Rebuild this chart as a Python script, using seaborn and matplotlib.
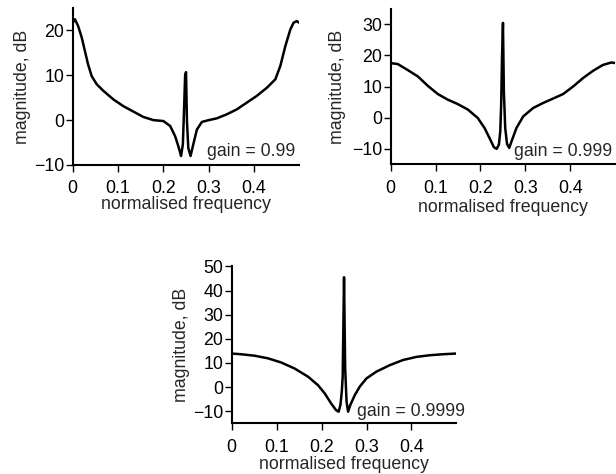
import matplotlib
matplotlib.use("Agg")
import matplotlib.pyplot as plt
import seaborn as sns

# ---- data ----
freq_a = [0.0, 0.005, 0.012, 0.02, 0.027, 0.034, 0.042, 0.053, 0.068, 0.09, 0.112, 0.134,
          0.156, 0.178, 0.2, 0.215, 0.226, 0.233, 0.239, 0.243, 0.246, 0.248, 0.25,
          0.252, 0.255, 0.26, 0.266, 0.274, 0.285, 0.3, 0.318, 0.34, 0.362, 0.384, 0.406,
          0.428, 0.447, 0.458, 0.469, 0.48, 0.487, 0.494, 0.5]
mag_a = [21.7, 22.5, 21.0, 18.4, 15.4, 12.4, 9.8, 8.0, 6.5, 4.6, 3.1, 1.9,
         0.7, 0.0, -0.2, -1.3, -3.6, -5.8, -8.0, -5.4, 3.5, 10.0, 10.7,
         -0.2, -6.2, -8.0, -5.4, -2.1, -0.4, 0.0, 0.4, 1.3, 2.4, 3.9, 5.4,
         7.2, 9.1, 12.1, 16.5, 20.2, 21.7, 22.1, 21.7]

freq_b = [0.0, 0.016, 0.038, 0.061, 0.083, 0.105, 0.127, 0.149, 0.172, 0.194, 0.209, 0.22,
          0.23, 0.236, 0.241, 0.244, 0.246, 0.248, 0.25, 0.252, 0.255, 0.259, 0.264,
          0.269, 0.28, 0.295, 0.317, 0.339, 0.361, 0.384, 0.406, 0.428, 0.45, 0.472,
          0.491, 0.5]
mag_b = [17.5, 17.2, 15.3, 13.2, 10.2, 7.6, 5.8, 4.4, 2.6, -0.1, -3.3, -6.5,
         -9.5, -10.0, -8.6, -4.4, 4.2, 20.0, 30.4, 8.4, -3.3, -8.4, -9.7,
         -7.6, -3.3, 0.4, 3.1, 4.7, 6.1, 7.6, 10.0, 12.7, 15.0, 16.9,
         17.7, 17.5]

freq_c = [0.0, 0.021, 0.051, 0.081, 0.11, 0.14, 0.17, 0.192, 0.207, 0.221, 0.232, 0.238,
          0.242, 0.245, 0.247, 0.2485, 0.25, 0.2525, 0.2556, 0.259, 0.264, 0.274, 0.285,
          0.3, 0.322, 0.352, 0.381, 0.411, 0.441, 0.47, 0.5]
mag_c = [13.9, 13.6, 13.0, 11.9, 10.2, 7.7, 4.3, 0.8, -2.6, -6.7, -9.5, -10.2,
         -7.4, -1.9, 4.3, 25.0, 45.5, 7.7, -6.0, -10.2, -7.4, -3.3, 0.2,
         3.6, 6.4, 9.1, 11.2, 12.5, 13.2, 13.6, 13.9]

gains = ["gain = 0.99", "gain = 0.999", "gain = 0.9999"]
xtick_vals = [0, 0.1, 0.2, 0.3, 0.4]
xtick_labels = ["0", "0.1", "0.2", "0.3", "0.4"]
yticks_a = [-10, 0, 10, 20]
yticks_b = [-10, 0, 10, 20, 30]
yticks_c = [-10, 0, 10, 20, 30, 40, 50]

# ---- style ----
sns.set_style("ticks")
plt.rcParams["font.family"] = ["Liberation Sans", "DejaVu Sans"]
plt.rcParams["axes.linewidth"] = 1.5
plt.rcParams["xtick.major.size"] = 5
plt.rcParams["ytick.major.size"] = 5
plt.rcParams["xtick.major.width"] = 1.0
plt.rcParams["ytick.major.width"] = 1.0
plt.rcParams["xtick.color"] = "black"
plt.rcParams["ytick.color"] = "black"
plt.rcParams["axes.edgecolor"] = "black"

fig = plt.figure(figsize=(6.16, 4.74), dpi=100)

panels = [
    dict(rect=[0.118, 0.652, 0.368, 0.331], x=freq_a, y=mag_a, ylim=(-10, 25), yt=yticks_a,
         gain=gains[0], gx=0.297, gy=-8.0, ylx=-0.184, xly=-0.198, xva="top"),
    dict(rect=[0.634, 0.653, 0.365, 0.329], x=freq_b, y=mag_b, ylim=(-15, 35), yt=yticks_b,
         gain=gains[1], gx=0.274, gy=-12.4, ylx=-0.196, xly=-0.22, xva="top"),
    dict(rect=[0.376, 0.107, 0.365, 0.331], x=freq_c, y=mag_c, ylim=(-15, 50), yt=yticks_c,
         gain=gains[2], gx=0.279, gy=-11.8, ylx=-0.185, xly=-0.315, xva="bottom"),
]

fs = 12.8
for p in panels:
    ax = fig.add_axes(p["rect"])
    sns.lineplot(x=p["x"], y=p["y"], ax=ax, color="black", linewidth=1.8)
    for ln in ax.get_lines():
        ln.set_solid_joinstyle("round")
    ax.set_xlim(0, 0.5)
    ax.set_ylim(*p["ylim"])
    ax.set_xticks(xtick_vals)
    ax.set_xticklabels(xtick_labels, fontsize=fs)
    ax.set_yticks(p["yt"])
    ax.set_yticklabels([f"{v}".replace("-", "\u2212") for v in p["yt"]], fontsize=fs)
    ax.tick_params(axis="x", pad=6)
    ax.tick_params(axis="y", pad=1)
    sns.despine(ax=ax)
    ax.set_xlabel("normalised frequency", fontsize=fs)
    ax.set_ylabel("magnitude, dB", fontsize=fs)
    ax.yaxis.set_label_coords(p["ylx"], 0.5)
    ax.xaxis.set_label_coords(0.5, p["xly"])
    ax.xaxis.label.set_va(p["xva"])
    ax.text(p["gx"], p["gy"], p["gain"], fontsize=fs, ha="left", va="baseline", clip_on=False)

fig.savefig("out.png", dpi=100)
